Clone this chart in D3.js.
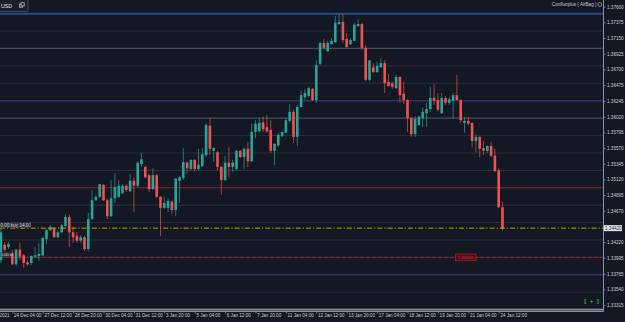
<!DOCTYPE html>
<html><head><meta charset="utf-8">
<script src="https://cdn.jsdelivr.net/npm/d3@7"></script>
<style>
html,body{margin:0;padding:0;background:#141824;overflow:hidden}
svg{display:block}
text{font-family:"Liberation Sans","DejaVu Sans",sans-serif}
</style></head><body>
<svg id="c" width="625" height="322"></svg>
<script>
// ---- DATA (H4 candles) ----
const openP = [1.3396,1.3418,1.3415,1.3406,1.3390,1.3411,1.3403,1.3393,1.3392,1.3401,
1.3402,1.3403,1.3426,1.3439,1.3441,1.3429,1.3436,1.3445,1.3458,1.3436,
1.3431,1.3424,1.3429,1.3412,1.3455,1.3482,1.3487,1.3504,1.3482,1.3459,
1.3485,1.3487,1.3492,1.3503,1.3495,1.3510,1.3503,1.3534,1.3530,1.3518,
1.3498,1.3518,1.3487,1.3471,1.3471,1.3480,1.3468,1.3510,1.3514,1.3536,
1.3527,1.3540,1.3527,1.3531,1.3547,1.3589,1.3553,1.3551,1.3530,1.3511,
1.3536,1.3530,1.3527,1.3553,1.3544,1.3556,1.3538,1.3580,1.3581,1.3594,
1.3587,1.3583,1.3553,1.3561,1.3574,1.3579,1.3596,1.3609,1.3573,1.3616,
1.3630,1.3632,1.3642,1.3626,1.3678,1.3708,1.3696,1.3706,1.3709,1.3735,
1.3738,1.3714,1.3706,1.3711,1.3732,1.3735,1.3701,1.3655,1.3673,1.3666,
1.3673,1.3679,1.3652,1.3650,1.3643,1.3659,1.3635,1.3626,1.3600,1.3577,
1.3590,1.3600,1.3607,1.3613,1.3629,1.3626,1.3607,1.3629,1.3622,1.3625,
1.3633,1.3626,1.3593,1.3596,1.3593,1.3567,1.3573,1.3557,1.3553,1.3560,
1.3546,1.3525,1.3472];
const highP = [1.3441,1.3422,1.3422,1.3411,1.3412,1.3421,1.3405,1.3396,1.3403,1.3415,
1.3421,1.3429,1.3441,1.3446,1.3444,1.3439,1.3448,1.3462,1.3461,1.3444,
1.3436,1.3432,1.3431,1.3464,1.3497,1.3490,1.3505,1.3505,1.3484,1.3511,
1.3521,1.3511,1.3505,1.3505,1.3520,1.3515,1.3538,1.3550,1.3531,1.3520,
1.3528,1.3520,1.3488,1.3487,1.3485,1.3482,1.3514,1.3517,1.3557,1.3538,
1.3541,1.3541,1.3556,1.3557,1.3592,1.3600,1.3558,1.3553,1.3531,1.3546,
1.3558,1.3540,1.3554,1.3554,1.3558,1.3566,1.3592,1.3597,1.3600,1.3602,
1.3604,1.3597,1.3564,1.3579,1.3581,1.3600,1.3620,1.3612,1.3619,1.3640,
1.3642,1.3645,1.3643,1.3683,1.3709,1.3714,1.3711,1.3715,1.3747,1.3750,
1.3750,1.3722,1.3715,1.3737,1.3742,1.3737,1.3705,1.3683,1.3679,1.3681,
1.3686,1.3683,1.3663,1.3653,1.3662,1.3660,1.3652,1.3627,1.3602,1.3603,
1.3604,1.3615,1.3622,1.3645,1.3649,1.3636,1.3636,1.3632,1.3630,1.3636,
1.3662,1.3627,1.3602,1.3602,1.3594,1.3576,1.3574,1.3567,1.3561,1.3566,
1.3556,1.3528,1.3480];
const lowP = [1.3392,1.3408,1.3412,1.3389,1.3388,1.3396,1.3385,1.3388,1.3389,1.3399,
1.3395,1.3402,1.3419,1.3438,1.3428,1.3428,1.3435,1.3444,1.3415,1.3421,
1.3421,1.3421,1.3409,1.3409,1.3454,1.3481,1.3485,1.3481,1.3455,1.3458,
1.3478,1.3485,1.3491,1.3494,1.3494,1.3465,1.3501,1.3530,1.3514,1.3494,
1.3497,1.3485,1.3431,1.3469,1.3465,1.3462,1.3459,1.3478,1.3511,1.3520,
1.3525,1.3523,1.3525,1.3530,1.3544,1.3547,1.3537,1.3525,1.3490,1.3510,
1.3515,1.3523,1.3525,1.3543,1.3527,1.3530,1.3537,1.3571,1.3579,1.3580,
1.3579,1.3550,1.3533,1.3558,1.3573,1.3579,1.3594,1.3564,1.3560,1.3615,
1.3626,1.3630,1.3625,1.3622,1.3676,1.3699,1.3695,1.3706,1.3708,1.3734,
1.3708,1.3701,1.3705,1.3711,1.3731,1.3698,1.3653,1.3653,1.3665,1.3665,
1.3672,1.3636,1.3645,1.3642,1.3642,1.3622,1.3620,1.3580,1.3573,1.3573,
1.3589,1.3587,1.3587,1.3609,1.3619,1.3610,1.3606,1.3619,1.3619,1.3599,
1.3625,1.3593,1.3579,1.3590,1.3558,1.3551,1.3544,1.3547,1.3550,1.3544,
1.3523,1.3471,1.3439];
const closeP = [1.3436,1.3411,1.3419,1.3390,1.3411,1.3401,1.3392,1.3390,1.3402,1.3403,
1.3405,1.3428,1.3439,1.3444,1.3429,1.3436,1.3446,1.3458,1.3436,1.3429,
1.3424,1.3429,1.3412,1.3455,1.3482,1.3487,1.3505,1.3482,1.3459,1.3485,
1.3501,1.3503,1.3503,1.3497,1.3510,1.3503,1.3536,1.3541,1.3515,1.3498,
1.3518,1.3487,1.3471,1.3478,1.3481,1.3468,1.3513,1.3515,1.3537,1.3528,
1.3540,1.3527,1.3533,1.3548,1.3590,1.3556,1.3557,1.3530,1.3511,1.3536,
1.3530,1.3536,1.3553,1.3544,1.3556,1.3538,1.3580,1.3592,1.3593,1.3584,
1.3581,1.3553,1.3563,1.3576,1.3580,1.3597,1.3609,1.3573,1.3616,1.3633,
1.3636,1.3643,1.3626,1.3676,1.3708,1.3701,1.3708,1.3711,1.3737,1.3738,
1.3712,1.3702,1.3712,1.3734,1.3735,1.3701,1.3655,1.3683,1.3666,1.3675,
1.3679,1.3650,1.3646,1.3645,1.3659,1.3633,1.3626,1.3600,1.3577,1.3599,
1.3602,1.3609,1.3613,1.3629,1.3625,1.3612,1.3629,1.3622,1.3627,1.3633,
1.3626,1.3597,1.3596,1.3592,1.3567,1.3573,1.3556,1.3553,1.3560,1.3546,
1.3524,1.3472,1.3441];

const priceTicks = ["1.37600","1.37375","1.37150","1.36925","1.36700","1.36475","1.36245","1.36020",
"1.35795","1.35570","1.35345","1.35120","1.34895","1.34670","1.34220","1.33995","1.33765","1.33540","1.33315"];
const timeTickIdx = [-5,3,11,19,27,35,43,51,59,67,75,83,91,99,107,115,123,131];
const timeTickLabels = ["23 Dec 2021","24 Dec 04:00","27 Dec 12:00","28 Dec 20:00","30 Dec 04:00","31 Dec 12:00",
"3 Jan 20:00","5 Jan 04:00","6 Jan 12:00","7 Jan 20:00","11 Jan 04:00","12 Jan 12:00","13 Jan 20:00",
"17 Jan 04:00","18 Jan 12:00","19 Jan 20:00","21 Jan 04:00","24 Jan 12:00"];
const levelPrices = [1.3750,1.3725,1.3700,1.3675,1.3650,1.3625,1.3600,1.3575,1.3550,1.3525,1.3500,
1.3475,1.3450,1.3425,1.3400,1.3375,1.3350,1.3325];
const tradePrice = 1.3442;
const stopPrice = 1.3400;
const symbolText = "USD";
const indicatorText = "Confluoplus ( AirBag )";
const tradeLabel = "0.00 buy 14.00";
const stopLabel = "0.00 sl";
const bidLabel = "1.34420";
const stopBoxLabel = "1.34000";

// ---- LAYOUT ----
const svg = d3.select("#c");
const W = 625, H = 322, plotR = 603, plotB = 311;
const n = openP.length;
const x = d3.scaleLinear().domain([0, n-1]).range([0.9, 0.9 + 3.8*(n-1)]);
const y = d3.scaleLinear().domain([1.37696, 1.33315]).range([0, 305.1]);

svg.append("rect").attr("width",W).attr("height",H).attr("fill","#141824");

const clip = svg.append("defs").append("clipPath").attr("id","pc");
clip.append("rect").attr("x",0).attr("y",0).attr("width",plotR).attr("height",plotB);
const plot = svg.append("g").attr("clip-path","url(#pc)");

function levelStyle(p){
  const k = Math.round(p*10000);
  if (k===13750) return {c:"#1f4f8f", w:2};
  if (k===13625 || k===13375) return {c:"#3c2a64", w:1.4};
  if (k===13500) return {c:"#7e2a2e", w:1.2};
  if (k===13700 || k===13600) return {c:"#484c56", w:1.2};
  if (k===13325) return {c:"#8e929a", w:1.6};
  return {c:"#2a2e3a", w:1.1};
}
plot.selectAll("line.lvl").data(levelPrices).join("line").attr("class","lvl")
  .attr("x1",0).attr("x2",plotR)
  .attr("y1",d=>y(d)).attr("y2",d=>y(d))
  .attr("stroke",d=>levelStyle(d).c).attr("stroke-width",d=>levelStyle(d).w);

plot.append("line").attr("x1",0).attr("x2",plotR).attr("y1",y(stopPrice)).attr("y2",y(stopPrice))
  .attr("stroke","#a01e24").attr("stroke-width",1).attr("stroke-dasharray","4,2");

const idx = d3.range(n);
const up = i => closeP[i] >= openP[i];
const colUp = "#26a69a", colDn = "#ef5350";
plot.selectAll("line.wick").data(idx).join("line").attr("class","wick")
  .attr("x1",i=>x(i)).attr("x2",i=>x(i))
  .attr("y1",i=>y(highP[i])).attr("y2",i=>y(lowP[i]))
  .attr("stroke",i=>up(i)?colUp:colDn).attr("stroke-width",0.9).attr("stroke-opacity",0.75);
plot.selectAll("rect.body").data(idx).join("rect").attr("class","body")
  .attr("x",i=>x(i)-1.3).attr("width",2.6)
  .attr("y",i=>y(Math.max(openP[i],closeP[i])))
  .attr("height",i=>Math.max(0.8, Math.abs(y(openP[i])-y(closeP[i]))))
  .attr("fill",i=>up(i)?colUp:colDn);

plot.append("line").attr("x1",0).attr("x2",plotR).attr("y1",y(tradePrice)).attr("y2",y(tradePrice))
  .attr("stroke","#c9a000").attr("stroke-width",1).attr("stroke-dasharray","5,2,1.2,2");

const tl = plot.append("g");
tl.append("rect").attr("x",0).attr("y",y(tradePrice)-5.5).attr("width",28).attr("height",5)
  .attr("fill","#3a3e48").attr("opacity",0.8);
tl.append("text").attr("x",0.5).attr("y",y(tradePrice)-2.9).attr("dy","0.35em")
  .attr("font-size",4.6).attr("fill","#d0d4dc").text(tradeLabel);
tl.append("rect").attr("x",0).attr("y",y(stopPrice)-5).attr("width",11).attr("height",4.5)
  .attr("fill","#3a3e48").attr("opacity",0.8);
tl.append("text").attr("x",0.5).attr("y",y(stopPrice)-2.8).attr("dy","0.35em")
  .attr("font-size",4.2).attr("fill","#d0d4dc").text(stopLabel);

const sb = plot.append("g");
sb.append("rect").attr("x",455.5).attr("y",y(stopPrice)-3.3).attr("width",20.5).attr("height",6.6)
  .attr("fill","#4e0c12").attr("stroke","#b01c24").attr("stroke-width",0.8);
sb.append("text").attr("x",465.7).attr("y",y(stopPrice)).attr("dy","0.35em").attr("text-anchor","middle")
  .attr("font-size",4.4).attr("fill","#d8313a").text(stopBoxLabel);

const sym = svg.append("g");
sym.append("rect").attr("x",-1).attr("y",-1).attr("width",29).attr("height",12.5)
  .attr("fill","#1b1f2b").attr("stroke","#50545e").attr("stroke-width",0.8);
sym.append("text").attr("x",1).attr("y",6).attr("dy","0.35em").attr("font-size",5.2)
  .attr("fill","#e6e8ee").text(symbolText);
sym.append("rect").attr("x",19.5).attr("y",4).attr("width",3.2).attr("height",3.2).attr("fill","none").attr("stroke","#c8ccd4").attr("stroke-width",0.7);
sym.append("rect").attr("x",21).attr("y",2.7).attr("width",3.2).attr("height",3.2).attr("fill","#1b1f2b").attr("stroke","#c8ccd4").attr("stroke-width",0.7);

svg.append("text").attr("x",596.5).attr("y",4.5).attr("dy","0.35em").attr("text-anchor","end")
  .attr("font-size",4.6).attr("fill","#c8ccd4").text(indicatorText);
svg.append("circle").attr("cx",599.8).attr("cy",4.5).attr("r",1.9).attr("fill","none").attr("stroke","#c8ccd4").attr("stroke-width",0.6);

svg.append("text").attr("x",591.5).attr("y",300.7).attr("dy","0.35em").attr("text-anchor","middle")
  .attr("font-size",6.2).attr("font-weight","bold").attr("fill","#1fc23a").attr("xml:space","preserve").text("[  +  ]");

svg.append("line").attr("x1",plotR+0.5).attr("x2",plotR+0.5).attr("y1",0).attr("y2",plotB+0.5).attr("stroke","#8e929a").attr("stroke-width",1);
svg.append("line").attr("x1",0).attr("x2",plotR+0.5).attr("y1",plotB+0.5).attr("y2",plotB+0.5).attr("stroke","#8e929a").attr("stroke-width",1);

const yAxis = d3.axisRight(y).tickValues(priceTicks.map(Number)).tickFormat((d,i)=>priceTicks[i]).tickSize(2).tickPadding(1.5);
const ya = svg.append("g").attr("transform",`translate(${plotR+0.5},0)`).call(yAxis);
ya.select(".domain").remove();
ya.selectAll("line").attr("stroke","#8e929a").attr("stroke-width",0.8);
ya.selectAll("text").attr("font-size",4.6).attr("fill","#c8ccd4").attr("font-family","Liberation Sans, sans-serif");

const bl = svg.append("g");
bl.append("rect").attr("x",plotR+1).attr("y",y(tradePrice)-3).attr("width",18).attr("height",6).attr("fill","#e4e6ea");
bl.append("text").attr("x",plotR+2).attr("y",y(tradePrice)).attr("dy","0.35em").attr("font-size",4.6).attr("fill","#20242e").text(bidLabel);

const xAxis = d3.axisBottom(x).tickValues(timeTickIdx).tickFormat((d,i)=>timeTickLabels[i]).tickSize(2).tickPadding(0);
const xa = svg.append("g").attr("transform",`translate(0,${plotB+0.5})`).call(xAxis);
xa.select(".domain").remove();
xa.selectAll("line").attr("stroke","#8e929a").attr("stroke-width",0.8);
xa.selectAll("text").attr("text-anchor","start").attr("dx","1.2").attr("y",2.2).attr("dy","0.71em")
  .attr("font-size",4.6).attr("fill","#c8ccd4").attr("font-family","Liberation Sans, sans-serif");
</script>
</body></html>
